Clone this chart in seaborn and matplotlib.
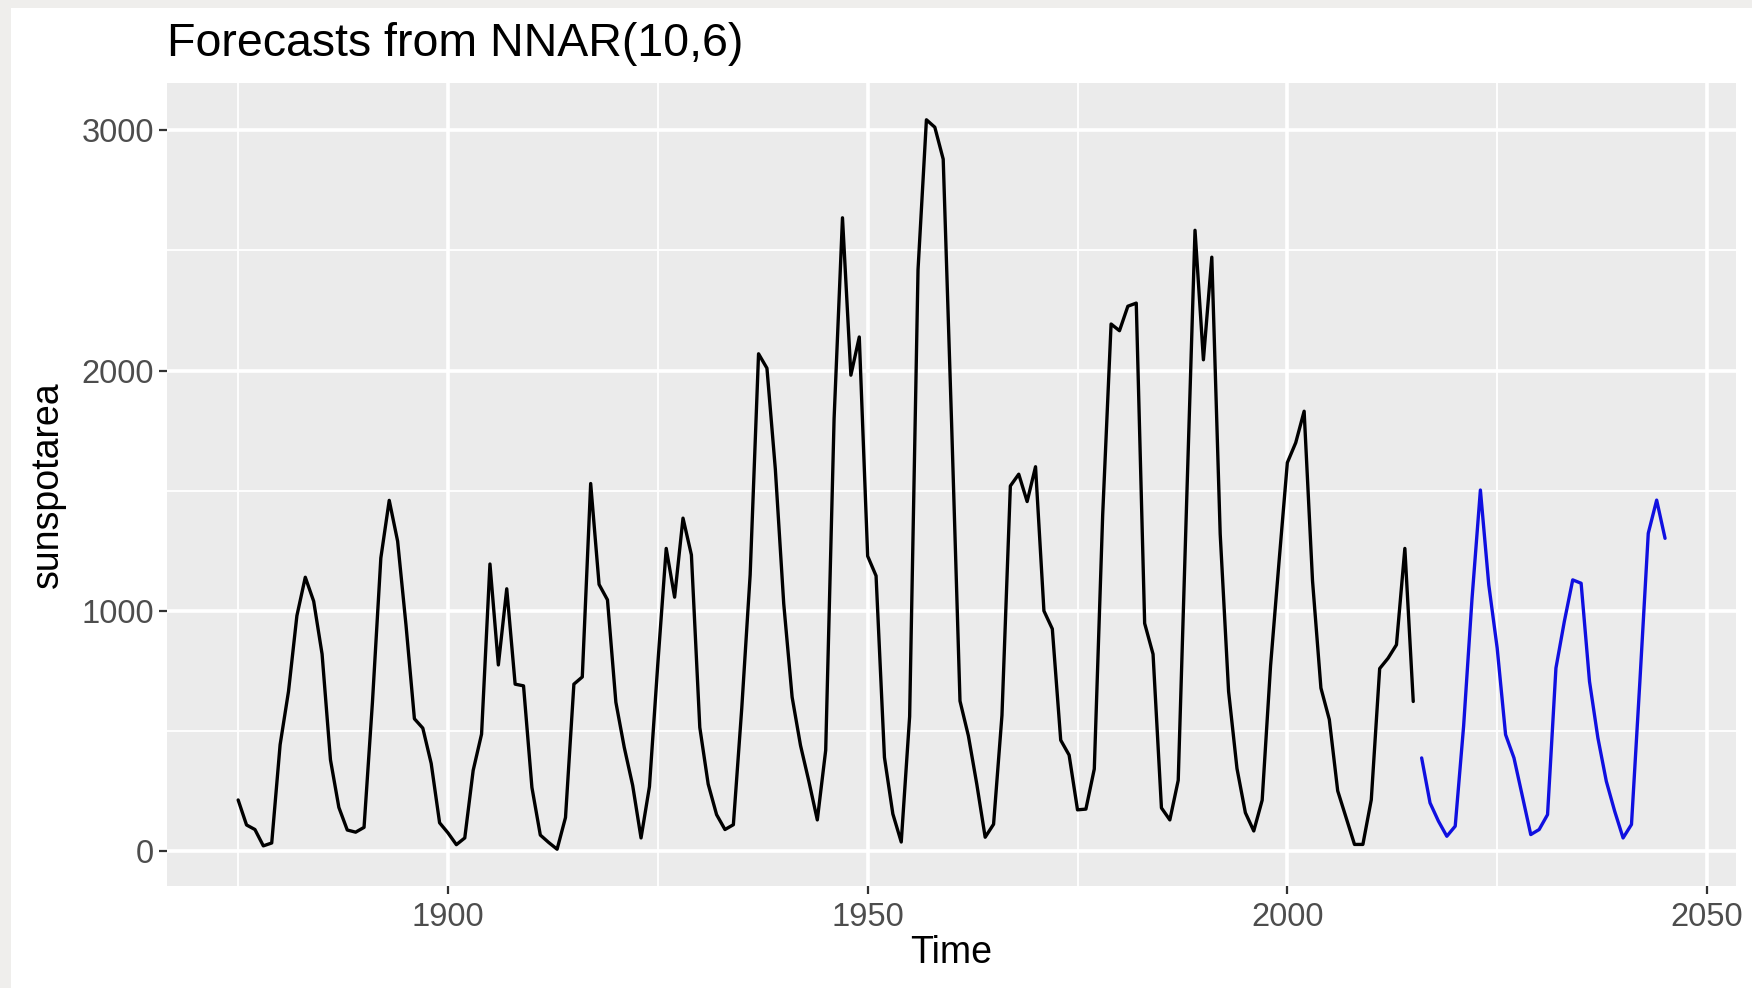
import numpy as np
import pandas as pd
import matplotlib
matplotlib.use("Agg")
import matplotlib.pyplot as plt
from matplotlib.patches import Rectangle
import seaborn as sns

# ---------------- data ----------------
hist_start = 1875
area_hist = [
    213, 109, 90, 22, 34,                                   # 1875-1879
    443, 665, 980, 1140, 1040, 820, 380, 182, 88, 79,       # 1880-1889
    99, 620, 1220, 1460, 1290, 940, 551, 512, 365, 118,     # 1890-1899
    76, 27, 55, 336, 487, 1195, 775, 1092, 695, 688,        # 1900-1909
    265, 67, 36, 8, 140, 695, 725, 1530, 1110, 1046,        # 1910-1919
    620, 432, 274, 55, 268, 780, 1260, 1057, 1386, 1233,    # 1920-1929
    515, 279, 152, 90, 110, 595, 1150, 2070, 2010, 1590,    # 1930-1939
    1030, 641, 440, 290, 130, 420, 1800, 2636, 1981, 2140,  # 1940-1949
    1228, 1146, 390, 155, 38, 560, 2420, 3044, 3013, 2880,  # 1950-1959
    1780, 625, 480, 279, 58, 112, 565, 1520, 1569, 1455,    # 1960-1969
    1600, 1000, 925, 462, 400, 172, 175, 342, 1400, 2194,   # 1970-1979
    2166, 2268, 2281, 948, 820, 180, 130, 295, 1450, 2584,  # 1980-1989
    2045, 2472, 1320, 665, 344, 160, 84, 212, 771, 1200,    # 1990-1999
    1617, 1700, 1831, 1125, 679, 548, 251, 139, 28, 28,     # 2000-2009
    214, 760, 803, 859, 1260, 623,                          # 2010-2015
]
fc_start = 2016
area_fc = [
    388, 201, 125, 62, 104, 520, 1050, 1503, 1108, 845,     # 2016-2025
    485, 388, 229, 69, 90, 152, 762, 956, 1129, 1115,       # 2026-2035
    706, 471, 291, 166, 55, 111, 706, 1323, 1461, 1302,     # 2036-2045
]
years_hist = list(range(hist_start, hist_start + len(area_hist)))
years_fc = list(range(fc_start, fc_start + len(area_fc)))

x_major = [1900, 1950, 2000, 2050]
x_minor = [1875, 1925, 1975, 2025]
y_major = [0, 1000, 2000, 3000]
y_minor = [500, 1500, 2500]

title = "Forecasts from NNAR(10,6)"
xlab = "Time"
ylab = "sunspotarea"

df_hist = pd.DataFrame({"Time": years_hist, "sunspotarea": area_hist})
df_fc = pd.DataFrame({"Time": years_fc, "sunspotarea": area_fc})

# ---------------- style ----------------
sns.set_theme(style="darkgrid")
plt.rcParams["font.family"] = ["Liberation Sans", "DejaVu Sans"]

W, H = 1752, 988
fig = plt.figure(figsize=(W / 100, H / 100), dpi=100)
fig.patch.set_facecolor("#efeeec")
fig.patches.append(Rectangle((11 / W, 0), 1 - 11 / W, 1 - 8 / H,
                             transform=fig.transFigure, facecolor="white",
                             edgecolor="none", zorder=-10))

left, right, top, bottom = 166.8, 1736.4, 83.3, 885.7
ax = fig.add_axes([left / W, (H - bottom) / H, (right - left) / W, (bottom - top) / H])
ax.set_zorder(5)
ax.set_facecolor("#EBEBEB")

sns.lineplot(data=df_hist, x="Time", y="sunspotarea", color="black",
             linewidth=2.4, ax=ax)
sns.lineplot(data=df_fc, x="Time", y="sunspotarea", color="#1010e0",
             linewidth=2.4, ax=ax)

xr = years_fc[-1] - years_hist[0]
ax.set_xlim(years_hist[0] - 0.05 * xr, years_fc[-1] + 0.05 * xr)
allv = area_hist + area_fc
yr = max(allv) - min(allv)
ax.set_ylim(min(allv) - 0.05 * yr, max(allv) + 0.05 * yr)

ax.set_xticks(x_major)
ax.set_xticks(x_minor, minor=True)
ax.set_yticks(y_major)
ax.set_yticks(y_minor, minor=True)
ax.set_xticklabels([str(v) for v in x_major])
ax.set_yticklabels([str(v) for v in y_major])

ax.grid(which="major", color="white", linewidth=2.6)
ax.grid(which="minor", color="white", linewidth=1.3)
ax.set_axisbelow(True)
for s in ax.spines.values():
    s.set_visible(False)

ax.tick_params(which="major", length=5.5, width=1.6, color="#333333",
               labelsize=23.5, labelcolor="#4D4D4D", bottom=True, left=True)
ax.tick_params(axis="y", pad=3.5)
ax.tick_params(axis="x", pad=6.5)
ax.tick_params(which="minor", length=0)

ax.set_xlabel(xlab, fontsize=27, color="black")
ax.set_ylabel(ylab, fontsize=27, color="black")
ax.xaxis.set_label_coords(0.5, -0.0839)
ax.xaxis.label.set_va("center")
ax.yaxis.set_label_coords(-0.076, 0.5)
ax.yaxis.label.set_va("center")

ax.set_title(title, loc="left", fontsize=33.5, color="black", pad=19.5)

fig.savefig("out.png", dpi=100, facecolor=fig.get_facecolor())
